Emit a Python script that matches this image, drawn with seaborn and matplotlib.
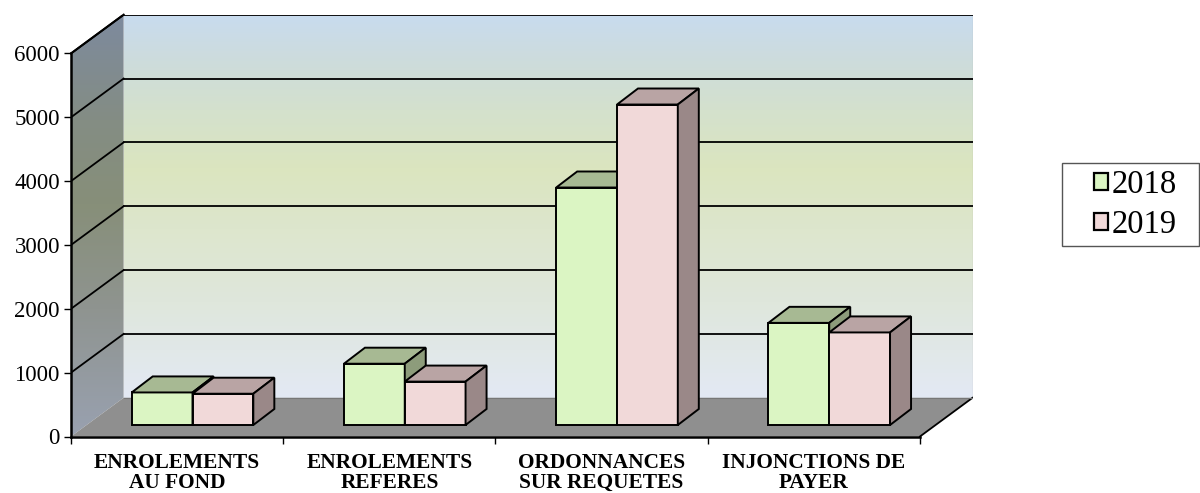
import numpy as np
import pandas as pd
import matplotlib
matplotlib.use("Agg")
import matplotlib.pyplot as plt
import seaborn as sns
from matplotlib.patches import Polygon, Patch, Rectangle
from matplotlib.colors import LinearSegmentedColormap

categories = ["ENROLEMENTS\nAU FOND", "ENROLEMENTS\nREFERES",
              "ORDONNANCES\nSUR REQUETES", "INJONCTIONS DE\nPAYER"]
years = ["2018", "2019"]
values_2018 = [510, 960, 3720, 1600]
values_2019 = [490, 680, 5020, 1450]
yticks = [0, 1000, 2000, 3000, 4000, 5000, 6000]

df = pd.DataFrame({
    "category": categories * 2,
    "year": ["2018"] * 4 + ["2019"] * 4,
    "value": values_2018 + values_2019,
})

front_colors = ["#dbf5c3", "#f1d9d9"]
top_colors = ["#a7b993", "#b9a4a4"]
side_colors = ["#8d9c7b", "#9a8888"]

# depth of the 3d box (category units, value units)
DX, DY = 0.248, 607
# bars sit a bit back from the front plane
BX, BY = 0.0725, 180
# depth of a bar
BDX, BDY = 0.099, 251
YMAX = 6000

plt.rcParams["font.family"] = ["Liberation Serif", "DejaVu Serif"]

fig = plt.figure(figsize=(12, 4.93), dpi=100)
ax = fig.add_axes([71 / 1200, 56.5 / 493, (972.6 - 71) / 1200, (436.5 - 14.7) / 493])

# back wall gradient
wall_cmap = LinearSegmentedColormap.from_list("wall", [
    (0.0, "#e3e9f4"), (0.25, "#dfe7dc"), (0.44, "#dde6cd"), (0.6, "#dbe5bf"),
    (0.75, "#d4e1cd"), (0.88, "#cddcdc"), (1.0, "#c8dbef")])
grad = np.linspace(0, 1, 256).reshape(-1, 1)
ax.imshow(grad, extent=[-0.5 + DX, 3.5 + DX, DY, YMAX + DY], origin="lower",
          cmap=wall_cmap, aspect="auto", zorder=0)

# side wall gradient, clipped to the parallelogram
side_cmap = LinearSegmentedColormap.from_list("side", [
    (0.0, "#99a1b0"), (0.3, "#8f9490"), (0.55, "#878f79"), (0.75, "#848d84"),
    (1.0, "#7d8a9e")])
side_poly = Polygon([(-0.5, 0), (-0.5, YMAX), (-0.5 + DX, YMAX + DY), (-0.5 + DX, DY)],
                    closed=True, facecolor="none", edgecolor="none")
ax.add_patch(side_poly)
im = ax.imshow(grad, extent=[-0.5, -0.5 + DX, 0, YMAX + DY], origin="lower",
               cmap=side_cmap, aspect="auto", zorder=0)
im.set_clip_path(side_poly)

# floor
ax.add_patch(Polygon([(-0.5, 0), (3.5, 0), (3.5 + DX, DY), (-0.5 + DX, DY)],
                     closed=True, facecolor="#8f8f8f", edgecolor="none", zorder=1))
ax.plot([3.5, 3.5 + DX], [0, DY], color="black", lw=1.3, zorder=2)
ax.plot([-0.5 + DX, 3.5 + DX], [DY, DY], color="#777777", lw=0.8, zorder=2)
ax.plot([3.5 + DX, 3.5 + DX], [DY, YMAX + DY], color="#888888", lw=0.8, zorder=2)

# grid lines on the back and side walls
for v in yticks[1:]:
    ax.plot([-0.5 + DX, 3.5 + DX], [v + DY, v + DY], color="black", lw=1.3, zorder=2)
    ax.plot([-0.5, -0.5 + DX], [v, v + DY], color="black", lw=1.3, zorder=2)

sns.barplot(data=df, x="category", y="value", hue="year", palette=front_colors,
            width=0.573, edgecolor="black", linewidth=1.4, saturation=1,
            legend=False, ax=ax)

for j, cont in enumerate(ax.containers):
    for bar in cont:
        x0 = bar.get_x() + BX
        w = bar.get_width()
        h = bar.get_height()
        x1 = x0 + w
        yb, yt = BY, BY + h
        bar.set_x(x0)
        bar.set_y(yb)
        bar.set_zorder(5 + j)
        top = Polygon([(x0, yt), (x1, yt), (x1 + BDX, yt + BDY), (x0 + BDX, yt + BDY)],
                      closed=True, facecolor=top_colors[j], edgecolor="black",
                      lw=1.4, zorder=5 + j)
        side = Polygon([(x1, yb), (x1 + BDX, yb + BDY), (x1 + BDX, yt + BDY), (x1, yt)],
                       closed=True, facecolor=side_colors[j], edgecolor="black",
                       lw=1.4, zorder=5 + j)
        ax.add_patch(top)
        ax.add_patch(side)

ax.set_xlim(-0.5, 3.5 + DX)
ax.set_ylim(0, YMAX + DY)
ax.set_xlabel("")
ax.set_ylabel("")

ax.set_yticks(yticks)
ax.set_yticklabels([str(v) for v in yticks], fontsize=16.5)
ax.tick_params(axis="y", direction="out", length=5, width=1, pad=3)

ax.set_xticks(range(4))
ax.set_xticklabels(categories, fontsize=15.4, fontweight="bold", linespacing=1.0)
ax.set_xticks([-0.5, 0.5, 1.5, 2.5, 3.5], minor=True)
ax.tick_params(axis="x", which="major", length=0, pad=12)
ax.tick_params(axis="x", which="minor", direction="out", length=5, width=1)

for s in ["top", "right"]:
    ax.spines[s].set_visible(False)
ax.spines["left"].set_bounds(0, YMAX)
ax.spines["bottom"].set_bounds(-0.5, 3.5)
ax.spines["left"].set_linewidth(1.8)
ax.spines["bottom"].set_linewidth(1.8)
ax.spines["left"].set_zorder(3)
ax.spines["bottom"].set_zorder(3)
ax.plot([-0.5, -0.5 + DX], [YMAX, YMAX + DY], color="black", lw=1.5, zorder=3, clip_on=False)
ax.set_facecolor("white")

# legend: frame drawn separately so it can be wider than its entries
fig.patches.append(Rectangle((1061.7 / 1200, 1 - 246 / 493), (1199 - 1061.7) / 1200,
                             (246 - 163.3) / 493, transform=fig.transFigure,
                             facecolor="white", edgecolor="#555555", lw=1))
handles = [Patch(facecolor=c, edgecolor="black", linewidth=1.6) for c in front_colors]
leg = fig.legend(handles, years, loc="center left",
                 bbox_to_anchor=(1094 / 1200, 1 - 205 / 493),
                 fontsize=23.5, frameon=False,
                 handlelength=0.42, handleheight=0.42, handletextpad=0.12,
                 labelspacing=0.3, borderpad=0, borderaxespad=0)

fig.savefig("out.png", dpi=100)
